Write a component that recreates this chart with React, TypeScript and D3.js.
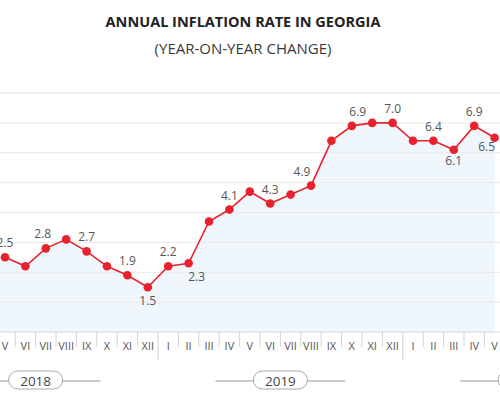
import React, { useEffect, useRef } from 'react';
import * as d3 from 'd3';

// May 2018 .. May 2020
const months = ['V', 'VI', 'VII', 'VIII', 'IX', 'X', 'XI', 'XII', 'I', 'II', 'III', 'IV', 'V', 'VI', 'VII', 'VIII', 'IX', 'X', 'XI', 'XII', 'I', 'II', 'III', 'IV', 'V'];
const inflation = [2.5, 2.2, 2.8, 3.1, 2.7, 2.2, 1.9, 1.5, 2.2, 2.3, 3.7, 4.1, 4.7, 4.3, 4.6, 4.9, 6.4, 6.9, 7.0, 7.0, 6.4, 6.4, 6.1, 6.9, 6.5];
const years = ['2018', '2019', '2020'];
const firstMonth = 5; // May of the first year
const yTicks = [0, 1, 2, 3, 4, 5, 6, 7, 8];

// which points carry a value label, and where it sits
const labelled = [0, 2, 4, 6, 7, 8, 9, 11, 13, 15, 17, 19, 21, 22, 23, 24];
const below = [7, 9, 22, 24];
const nudge: Record<number, [number, number]> = { 2: [-3, 0], 9: [8, 0], 15: [-9, 0], 17: [6, 0], 22: [0, -3], 24: [-8, -5] };

const App: React.FC = () => {
  const svgRef = useRef<SVGSVGElement>(null);

  useEffect(() => {
    if (!svgRef.current) return;
    const width = 500;
    const height = 400;
    const svg = d3.select(svgRef.current);
    svg.selectAll('*').remove();

    const x = d3.scaleLinear().domain([0, months.length - 1]).range([5, 494.6]);
    const y = d3.scaleLinear().domain([0, 8]).range([332, 93]);

    svg.append('rect').attr('width', width).attr('height', height).attr('fill', '#fff');

    // title
    svg.append('text')
      .attr('x', 243).attr('y', 27)
      .attr('text-anchor', 'middle')
      .style('font-family', '"Open Sans", sans-serif')
      .style('font-size', '14.5px')
      .style('font-weight', 700)
      .style('fill', '#222')
      .text('ANNUAL INFLATION RATE IN GEORGIA');

    svg.append('text')
      .attr('x', 243).attr('y', 54)
      .attr('text-anchor', 'middle')
      .style('font-family', '"Open Sans", sans-serif')
      .style('font-size', '15px')
      .style('fill', '#3a3a3a')
      .text('(YEAR-ON-YEAR CHANGE)');

    // area under line
    const area = d3.area<number>()
      .x((_, i) => x(i))
      .y0(y(0))
      .y1(d => y(d));
    svg.append('path')
      .datum(inflation)
      .attr('d', area)
      .attr('fill', '#f0f7fc');
    // fill left of the first point
    svg.append('rect')
      .attr('x', 0).attr('y', y(inflation[0]))
      .attr('width', x(0)).attr('height', y(0) - y(inflation[0]))
      .attr('fill', '#f0f7fc');

    // gridlines
    svg.append('g')
      .selectAll('line')
      .data(yTicks)
      .enter()
      .append('line')
      .attr('x1', 0).attr('x2', width)
      .attr('y1', d => y(d)).attr('y2', d => y(d))
      .attr('stroke', d => (d === 0 ? '#d8d8d8' : '#e8e8e8'))
      .attr('stroke-width', d => (d === 8 ? 1.5 : 1));

    // line
    const line = d3.line<number>()
      .x((_, i) => x(i))
      .y(d => y(d));
    svg.append('path')
      .datum(inflation)
      .attr('d', line)
      .attr('fill', 'none')
      .attr('stroke', '#e8222c')
      .attr('stroke-width', 1.6);

    svg.append('g')
      .selectAll('circle')
      .data(inflation)
      .enter()
      .append('circle')
      .attr('cx', (_, i) => x(i))
      .attr('cy', d => y(d))
      .attr('r', 4.3)
      .attr('fill', '#e8222c');

    // value labels
    svg.append('g')
      .selectAll('text')
      .data(labelled)
      .enter()
      .append('text')
      .attr('x', i => x(i) + (nudge[i] ? nudge[i][0] : 0))
      .attr('y', i => y(inflation[i]) + (below.includes(i) ? 18 : -10) + (nudge[i] ? nudge[i][1] : 0))
      .attr('text-anchor', 'middle')
      .style('font-family', '"Open Sans", sans-serif')
      .style('font-size', '12px')
      .style('fill', '#555')
      .text(i => inflation[i].toFixed(1));

    // month axis
    const axisY = y(0);
    const seps = d3.range(-1, months.length).map(i => i + 0.5);
    svg.append('g')
      .selectAll('line')
      .data(seps)
      .enter()
      .append('line')
      .attr('x1', d => x(d)).attr('x2', d => x(d))
      .attr('y1', axisY)
      .attr('y2', d => ((Math.round(d - 0.5) + firstMonth) % 12 === 0 ? 360 : 347))
      .attr('stroke', '#d4d4d4')
      .attr('stroke-width', 1);

    svg.append('g')
      .selectAll('text')
      .data(months)
      .enter()
      .append('text')
      .attr('x', (_, i) => x(i))
      .attr('y', 350)
      .attr('text-anchor', 'middle')
      .style('font-family', '"Open Sans", sans-serif')
      .style('font-size', '11px')
      .style('fill', '#555')
      .text(d => d);

    // year pills
    const yearG = svg.append('g')
      .selectAll('g')
      .data(years)
      .enter()
      .append('g')
      .attr('transform', (_, k) => {
        const jan = k * 12 - (firstMonth - 1);
        return `translate(${(x(jan) + x(jan + 11)) / 2},0)`;
      });
    yearG.append('line')
      .attr('x1', -65).attr('x2', 65)
      .attr('y1', 381).attr('y2', 381)
      .attr('stroke', '#999')
      .attr('stroke-width', 1);
    yearG.append('rect')
      .attr('x', -27).attr('y', 371)
      .attr('width', 54).attr('height', 18)
      .attr('rx', 9)
      .attr('fill', '#fff')
      .attr('stroke', '#aaa');
    yearG.append('text')
      .attr('y', 385.5)
      .attr('text-anchor', 'middle')
      .style('font-family', '"Open Sans", sans-serif')
      .style('font-size', '13.5px')
      .style('fill', '#444')
      .text(d => d);
  }, []);

  return (
    <svg
      ref={svgRef}
      width={500}
      height={400}
      style={{ position: 'absolute', left: 0, top: 0, display: 'block', overflow: 'hidden' }}
    />
  );
};

export default App;
